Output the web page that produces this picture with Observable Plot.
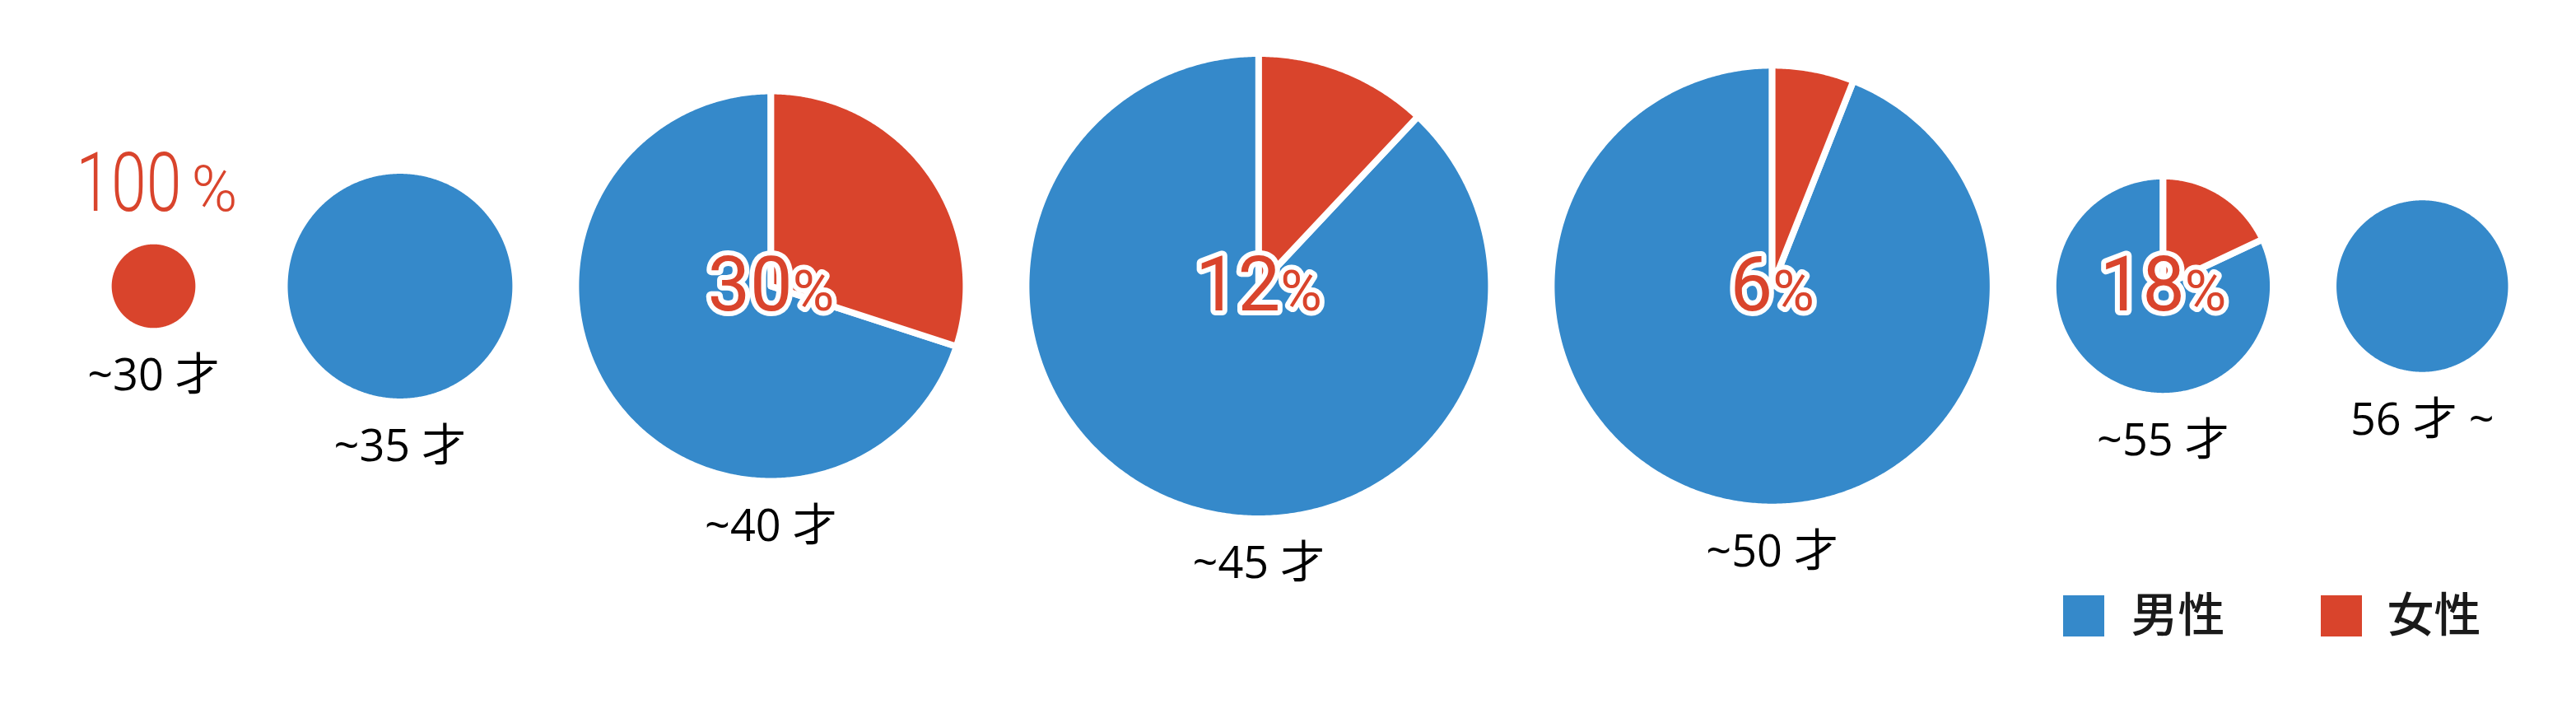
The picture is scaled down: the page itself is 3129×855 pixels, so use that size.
<!DOCTYPE html>
<html>
<head>
<meta charset="utf-8">
<script src="https://cdn.jsdelivr.net/npm/d3@7"></script>
<script src="https://cdn.jsdelivr.net/npm/@observablehq/plot@0.6"></script>
<style>
  html, body { margin: 0; padding: 0; background: #ffffff; }
  #chart svg { display: block; }
</style>
</head>
<body>
<div id="chart"></div>
<script>
// ---- data ----
const ageGroups   = ["~30 才", "~35 才", "~40 才", "~45 才", "~50 才", "~55 才", "56 才 ~"];
const groupSize   = [1, 7.2, 21, 30, 27, 6.5, 4.2];      // relative size of each group (pie area)
const femaleShare = [100, 0, 30, 12, 6, 18, 0];          // % 女性
const sexes       = ["男性", "女性"];
const sexColors   = ["#3589CA", "#D9442C"];

// ---- layout ----
const W = 3129, H = 855;
const cy = 347, gap = 81, minHalf = 82, left0 = 104, maxR = 278.5;
const rScale = Plot.scale({r: {type: "sqrt", domain: [0, d3.max(groupSize)], range: [0, maxR]}});
const radius = groupSize.map(s => rScale.apply(s));
const centers = [];
{
  let edge = left0;
  radius.forEach(r => {
    const half = Math.max(r, minHalf);
    centers.push(edge + half);
    edge += 2 * half + gap;
  });
}

// pie slices as closed polygons in x/y data space
const slices = [];
ageGroups.forEach((g, i) => {
  const f = femaleShare[i] / 100;
  const parts = [{sex: "男性", a0: f, a1: 1}, {sex: "女性", a0: 0, a1: f}];
  parts.forEach(p => {
    const span = p.a1 - p.a0;
    if (span <= 0) return;
    const full = span >= 1;
    const R = radius[i] + 4;
    const id = g + "|" + p.sex;
    if (!full) slices.push({id, sex: p.sex, x: centers[i], y: cy});
    const n = Math.max(4, Math.ceil(span * 720));
    for (let k = 0; k <= (full ? n - 1 : n); k++) {
      const t = 2 * Math.PI * (p.a0 + span * k / n);
      slices.push({id, sex: p.sex, x: centers[i] + R * Math.sin(t), y: cy - R * Math.cos(t)});
    }
  });
});

const rows = ageGroups.map((g, i) => ({g, i, f: femaleShare[i], cx: centers[i], r: radius[i]}));

// percentage labels inside pies
const numSize = 92, pctSize = 69;
const inner = rows.filter(d => d.f > 0 && d.f < 100 && d.r >= minHalf).map(d => {
  const n = String(d.f).length, digitW = 0.562 * numSize, pctW = 0.733 * pctSize;
  const tw = n * digitW + pctW;
  return {...d, xj: d.cx - tw / 2 + n * digitW, yb: cy + 29};
});
// percentage labels above small pies
const outer = rows.filter(d => d.f > 0 && d.r < minHalf).map(d => ({...d, xj: d.cx + 34, yb: cy - d.r - 41}));

// age labels
const ageLabels = rows.map(d => ({...d, yb: cy + d.r + 76}));

// legend
const legend = sexes.map((s, k) => ({s, x1: 2506 + k * 313, x2: 2556 + k * 313, y1: 723, y2: 773, tx: 2588 + k * 311, ty: 748}));

const labelFont = "'Open Sans', 'Noto Sans CJK JP', sans-serif";
const legendFont = "'Noto Sans CJK JP', 'Noto Sans', sans-serif";
const numFont = "Roboto, 'DejaVu Sans', sans-serif";
const thinFont = "Roboto, 'Liberation Sans', sans-serif";

const chart = Plot.plot({
  width: W,
  height: H,
  margin: 0,
  x: {domain: [0, W], range: [0, W], axis: null},
  y: {domain: [0, H], range: [0, H], axis: null},
  color: {domain: sexes, range: sexColors},
  style: {background: "#ffffff", overflow: "visible"},
  marks: [
    Plot.line(slices, {x: "x", y: "y", z: "id", fill: "sex", stroke: "white", strokeWidth: 8,
      curve: "linear-closed", strokeLinejoin: "round"}),
    // inner percentage (number + %)
    Plot.text(inner, {x: "xj", y: "yb", text: d => String(d.f), fill: () => "女性", textAnchor: "end", lineAnchor: "bottom",
      fontSize: numSize, fontFamily: numFont, stroke: "white", strokeWidth: 12, paintOrder: "stroke", strokeLinejoin: "round"}),
    Plot.text(inner, {x: "xj", y: "yb", text: () => "%", fill: () => "女性", textAnchor: "start", lineAnchor: "bottom",
      fontSize: pctSize, fontFamily: numFont, stroke: "white", strokeWidth: 12, paintOrder: "stroke", strokeLinejoin: "round"}),
    // outer percentage for the tiny pie (thin, condensed)
    Plot.text(outer, {x: "xj", y: "yb", text: d => String(d.f), fill: () => "女性", textAnchor: "end", lineAnchor: "bottom",
      fontSize: 100, fontWeight: 300, fontFamily: thinFont}),
    Plot.text(outer, {x: "xj", y: "yb", text: () => "%", fill: () => "女性", textAnchor: "start", lineAnchor: "bottom",
      fontSize: 78, fontWeight: 300, fontFamily: thinFont, dx: 12}),
    // age labels
    Plot.text(ageLabels, {x: "cx", y: "yb", text: "g", textAnchor: "middle", lineAnchor: "bottom",
      fontSize: 54, fontFamily: labelFont, fill: "#000000"}),
    // legend
    Plot.rect(legend, {x1: "x1", x2: "x2", y1: "y1", y2: "y2", fill: "s"}),
    Plot.text(legend, {x: "tx", y: "ty", text: "s", textAnchor: "start", lineAnchor: "middle",
      fontSize: 57, fontWeight: 500, fontFamily: legendFont, fill: "#1a1a1a"})
  ]
});

// condense the thin outer label horizontally (like a condensed light face)
d3.select(chart).selectAll("g").filter(function () { return this.getAttribute("font-family") === thinFont; })
  .each(function () {
    const fs = +this.getAttribute("font-size");
    const sx = fs >= 100 ? 0.77 : 0.97;
    d3.select(this).selectAll("text").each(function () {
      const t = this.getAttribute("transform");
      if (t) {
        this.setAttribute("transform", t + ` scale(${sx},1)`);
      } else {
        const x = +this.getAttribute("x") || 0, y = +this.getAttribute("y") || 0;
        this.removeAttribute("x"); this.removeAttribute("y");
        this.setAttribute("transform", `translate(${x},${y}) scale(${sx},1)`);
      }
    });
  });

document.getElementById("chart").appendChild(chart);
</script>
</body>
</html>
